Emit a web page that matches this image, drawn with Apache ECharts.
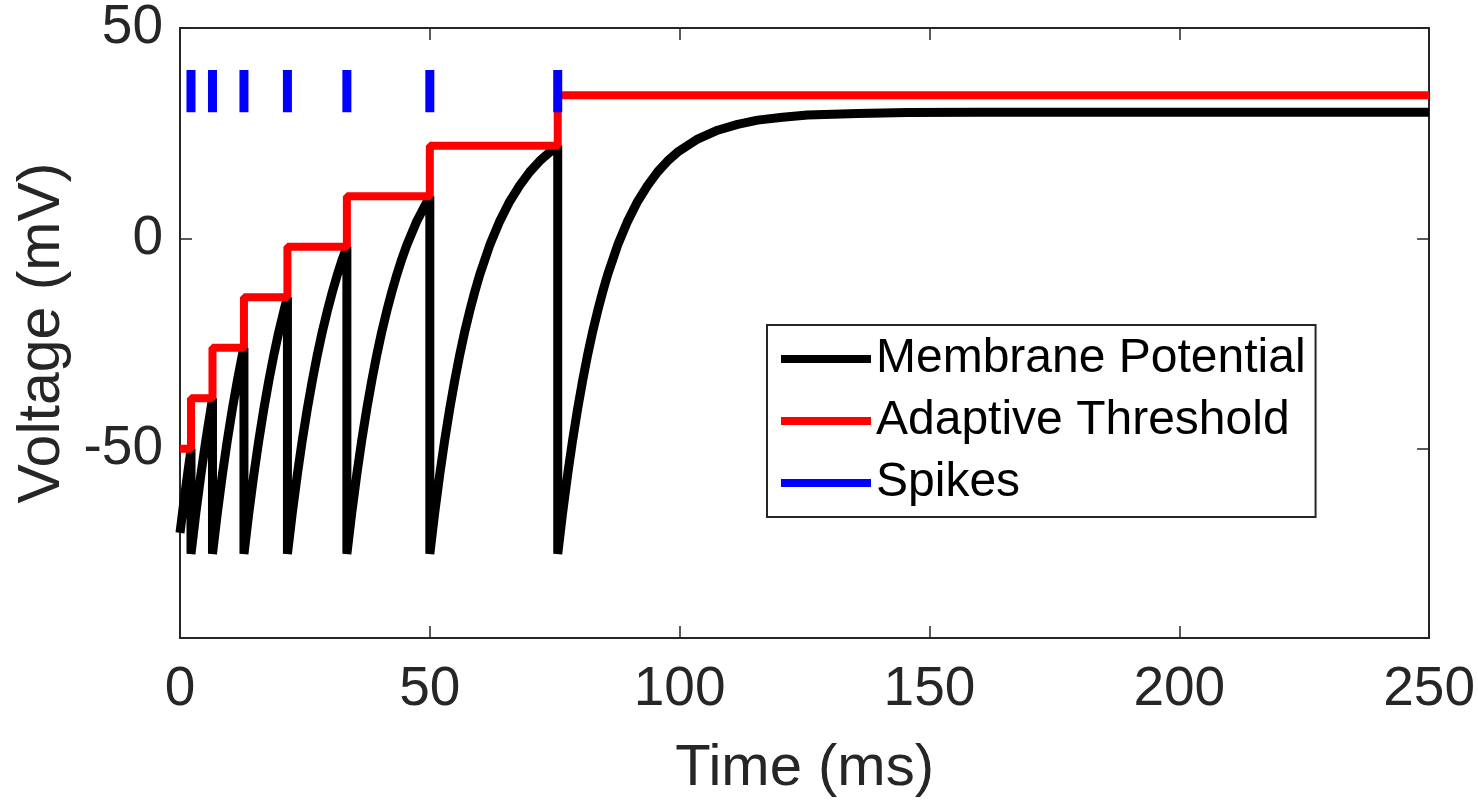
<!DOCTYPE html>
<html><head><meta charset="utf-8">
<script src="https://cdn.jsdelivr.net/npm/echarts@6/dist/echarts.min.js"></script>
<style>html,body{margin:0;padding:0;background:#fff}#c{width:1478px;height:803px}</style>
</head><body><div id="c"></div>
<script>
// ---- data ----
const xMin = 0, xMax = 250, xStep = 50;
const yMin = -95, yMax = 50, yStep = 50;

const memTime = [
  0, 1, 2, 2.2,
  2.2, 3.2, 4.2, 5.2, 6.2, 6.5,
  6.5, 7.5, 8.5, 9.5, 10.5, 11.5, 12.5, 12.8,
  12.8, 13.8, 14.8, 15.8, 16.8, 17.8, 18.8, 19.8, 20.8, 21.5,
  21.5, 22.5, 23.5, 24.5, 25.5, 26.5, 27.5, 28.5, 29.5, 30.5, 31.5, 32.5, 33.4,
  33.4, 34.4, 35.4, 36.4, 37.4, 38.4, 39.4, 40.4, 41.4, 42.4, 43.4, 44.4, 45.4, 47.4, 50,
  50, 51, 52, 53, 54, 55, 56, 57, 58, 59, 60, 62, 64, 66, 68, 70, 72, 74, 75.6,
  75.6, 76.6, 77.6, 78.6, 79.6, 80.6, 81.6, 82.6, 83.6, 84.6, 85.6, 87.6, 89.6, 91.6, 93.6, 95.6,
  97.6, 99.6, 103.6, 107.6, 111.6, 115.6, 120.6, 125.6, 135.6, 145.6, 160, 250
];
const memVolt = [
  -70, -60.5, -51.9, -50,
  -75, -65, -56, -47.8, -40.4, -38,
  -75, -65, -56, -47.8, -40.4, -33.7, -27.6, -26,
  -75, -65, -56, -47.8, -40.4, -33.7, -27.6, -22.1, -17.2, -14,
  -75, -65, -56, -47.8, -40.4, -33.7, -27.6, -22.1, -17.2, -12.7, -8.6, -4.9, -2,
  -75, -65, -56, -47.8, -40.4, -33.7, -27.6, -22.1, -17.2, -12.7, -8.6, -4.9, -1.6, 4.1, 10,
  -75, -65, -56, -47.8, -40.4, -33.7, -27.6, -22.1, -17.2, -12.7, -8.6, -1.6, 4.1, 8.8, 12.6, 15.8, 18.4, 20.5, 22,
  -75, -65, -56, -47.8, -40.4, -33.7, -27.6, -22.1, -17.2, -12.7, -8.6, -1.6, 4.1, 8.8, 12.6, 15.8,
  18.4, 20.5, 23.6, 25.7, 27.1, 28.1, 28.8, 29.3, 29.7, 29.9, 30, 30
];

const spikeTimes = [2.2, 6.5, 12.8, 21.5, 33.4, 50, 75.6];
const thresholdStart = -50;
const thresholdLevels = [-38, -26, -14, -2, 10, 22, 34];
const spikeLow = 30, spikeHigh = 40;

const seriesNames = ['Membrane Potential', 'Adaptive Threshold', 'Spikes'];
const xTitle = 'Time (ms)';
const yTitle = 'Voltage (mV)';

// ---- build series data ----
const memData = memTime.map((t, i) => [t, memVolt[i]]);

const thrData = [[xMin, thresholdStart]];
let prev = thresholdStart;
spikeTimes.forEach((t, i) => {
  thrData.push([t, prev]);
  thrData.push([t, thresholdLevels[i]]);
  prev = thresholdLevels[i];
});
thrData.push([xMax, prev]);

const spikeData = [];
spikeTimes.forEach(t => {
  spikeData.push([t, spikeLow]);
  spikeData.push([t, spikeHigh]);
  spikeData.push([t, '-']);
});

const FONT = 'Liberation Sans, Arial, Helvetica, sans-serif';
const AX = '#262626';

const axisLine = { show: true, onZero: false, lineStyle: { color: AX, width: 2 } };
const axisTick = { show: true, inside: true, length: 12, lineStyle: { color: AX, width: 1.5 } };

const chart = echarts.init(document.getElementById('c'), null, { renderer: 'canvas' });
chart.setOption({
  backgroundColor: '#fff',
  animation: false,
  textStyle: { fontFamily: FONT },
  grid: { left: 180, top: 28, right: 48, bottom: 163, containLabel: false },
  legend: {
    orient: 'vertical',
    left: 767, top: 325,
    padding: [10, 10, 10, 10],
    itemGap: 14,
    itemWidth: 90, itemHeight: 10,
    backgroundColor: '#fff',
    borderColor: AX, borderWidth: 2, borderRadius: 0,
    lineStyle: { width: 8 },
    textStyle: { fontSize: 48, color: '#000', fontFamily: FONT },
    data: seriesNames
  },
  xAxis: [
    {
      type: 'value', position: 'bottom', min: xMin, max: xMax, interval: xStep,
      axisLine, axisTick,
      axisLabel: { fontSize: 55, color: AX, margin: 24, fontFamily: FONT },
      splitLine: { show: false },
      name: xTitle, nameLocation: 'middle', nameGap: 102,
      nameTextStyle: { fontSize: 58, color: AX, fontFamily: FONT }
    },
    {
      type: 'value', position: 'top', min: xMin, max: xMax, interval: xStep,
      axisLine, axisTick, axisLabel: { show: false }, splitLine: { show: false }
    }
  ],
  yAxis: [
    {
      type: 'value', position: 'left', min: yMin, max: yMax,
      splitNumber: 3, minInterval: yStep, maxInterval: yStep,
      axisLine, axisTick,
      axisLabel: { fontSize: 55, color: AX, margin: 17, fontFamily: FONT, showMinLabel: false },
      splitLine: { show: false },
      name: yTitle, nameLocation: 'middle', nameGap: 104,
      nameTextStyle: { fontSize: 59, color: AX, fontFamily: FONT }
    },
    {
      type: 'value', position: 'right', min: yMin, max: yMax,
      splitNumber: 3, minInterval: yStep, maxInterval: yStep,
      axisLine, axisTick, axisLabel: { show: false }, splitLine: { show: false }
    }
  ],
  series: [
    {
      name: seriesNames[0], type: 'line', data: memData, symbol: 'none', clip: false,
      lineStyle: { color: '#000', width: 9, join: 'bevel' }, itemStyle: { color: '#000' }, z: 2
    },
    {
      name: seriesNames[1], type: 'line', data: thrData, symbol: 'none', clip: false,
      lineStyle: { color: '#ff0000', width: 8 }, itemStyle: { color: '#ff0000' }, z: 3
    },
    {
      name: seriesNames[2], type: 'line', data: spikeData, symbol: 'none', clip: false,
      connectNulls: false,
      lineStyle: { color: '#0000ff', width: 9, cap: 'butt' }, itemStyle: { color: '#0000ff' }, z: 4
    }
  ]
});
</script>
</body></html>
